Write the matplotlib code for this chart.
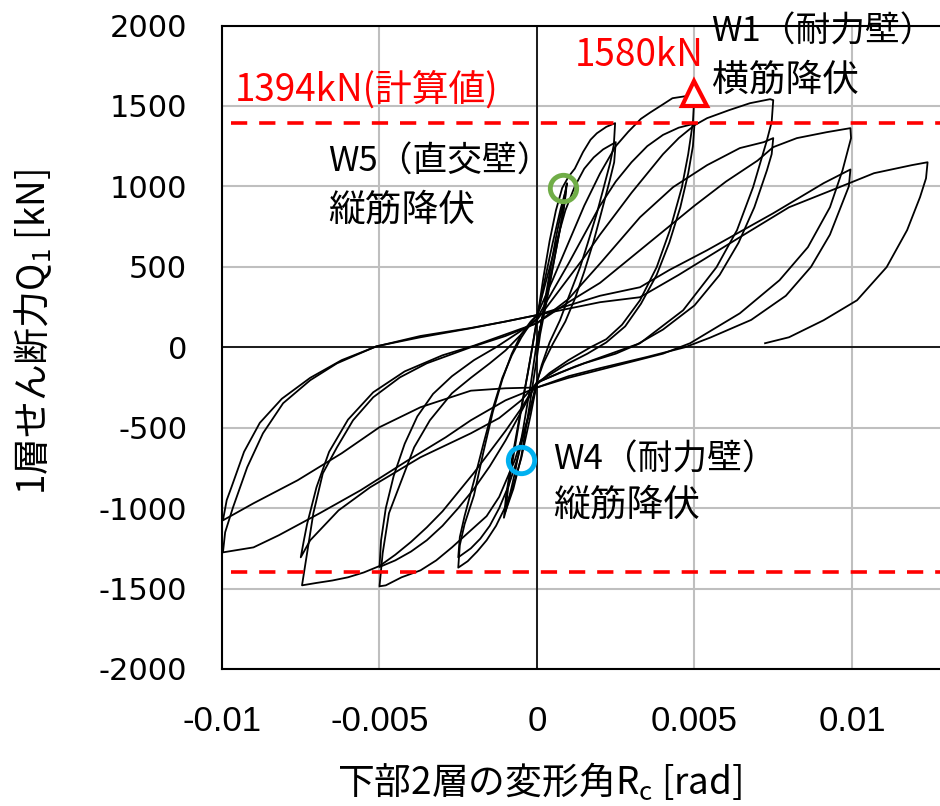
import matplotlib
matplotlib.use('Agg')
import matplotlib.pyplot as plt
import numpy as np

plt.rcParams['font.family'] = ['Noto Sans CJK JP', 'DejaVu Sans']

# 変形角は 1e-3 rad 単位で読み取り、せん断力は kN
# ±0.001 rad 1回目
r_a = [0, 0.2, 0.4, 0.6, 0.8, 0.95, 0.88, 0.7, 0.45, 0.2, 0, -0.2, -0.45, -0.7, -0.9, -1.05, -0.98, -0.8, -0.55, -0.3, -0.1, 0]
q_a = [0, 230, 460, 680, 870, 1020, 900, 700, 450, 200, 40, -230, -520, -780, -950, -1060, -920, -700, -430, -170, 60, 180]
# ±0.001 rad 2回目
r_b = [0, 0.25, 0.5, 0.75, 0.92, 0.85, 0.6, 0.35, 0.1, 0, -0.25, -0.5, -0.75, -1.0, -0.92, -0.7, -0.45, -0.2, 0]
q_b = [180, 420, 650, 860, 980, 860, 600, 330, 80, -60, -380, -680, -880, -1020, -880, -620, -330, -60, 170]
# ±0.0025 rad 1回目
r_c = [0, 0.2, 0.4, 0.6, 0.8, 1.0, 1.2, 1.46, 1.7, 1.9, 2.2, 2.48,
       2.44, 2.32, 2.1, 1.9, 1.6, 1.37, 1.0, 0.73, 0.4, 0.15, 0,
       -0.2, -0.5, -0.8, -1.0, -1.3, -1.6, -1.9, -2.2, -2.5,
       -2.45, -2.3, -2.0, -1.7, -1.4, -1.1, -0.8, -0.5, -0.2, 0]
q_c = [170, 430, 660, 850, 990, 1060, 1110, 1213, 1290, 1330, 1370, 1393,
       1260, 1144, 980, 833, 640, 498, 310, 168, 30, -110, -220,
       -420, -690, -890, -990, -1110, -1200, -1270, -1330, -1370,
       -1230, -1100, -920, -650, -400, -200, -40, 80, 160, 200]
# ±0.0025 rad 2回目
r_d = [0, 0.3, 0.6, 0.9, 1.2, 1.5, 1.8, 2.1, 2.5,
       2.45, 2.3, 2.1, 1.8, 1.5, 1.2, 0.9, 0.5, 0.2, 0,
       -0.3, -0.6, -0.9, -1.2, -1.5, -1.8, -2.1, -2.5,
       -2.45, -2.3, -2.0, -1.7, -1.4, -1.1, -0.8, -0.5, -0.2, 0]
q_d = [200, 420, 640, 850, 1000, 1110, 1180, 1230, 1275,
       1150, 1030, 880, 660, 470, 300, 160, 20, -100, -210,
       -450, -680, -860, -1000, -1110, -1190, -1250, -1306,
       -1180, -1050, -830, -600, -380, -190, -50, 60, 150, 200]
# ±0.005 rad 1回目
r_e = [0, 0.5, 1.0, 1.5, 2.0, 2.5, 2.9, 3.3, 3.6, 4.0, 4.3, 4.7, 5.0,
       4.95, 4.8, 4.6, 4.22, 3.8, 3.27, 2.7, 2.2, 1.7, 1.0, 0.4, 0,
       -0.3, -0.7, -1.2, -1.6, -2.1, -2.7, -3.2, -3.7, -4.3, -4.8, -5.0,
       -4.9, -4.7, -4.3, -3.9, -3.4, -2.7, -2.1, -1.5, -1.0, -0.5, 0]
q_e = [200, 420, 650, 880, 1080, 1250, 1340, 1420, 1460, 1510, 1548, 1560, 1580,
       1400, 1200, 995, 728, 498, 292, 140, 50, 0, -80, -160, -230,
       -450, -700, -930, -1050, -1138, -1244, -1325, -1387, -1430, -1480, -1486,
       -1281, -1032, -827, -622, -454, -286, -190, -100, -20, 80, 180]
# ±0.005 rad 2回目
r_f = [0, 0.5, 1.0, 1.5, 2.0, 2.5, 3.0, 3.5, 4.0, 4.5, 5.0,
       4.95, 4.8, 4.55, 4.2, 3.8, 3.3, 2.8, 2.2, 1.6, 0.9, 0,
       -0.5, -1.0, -1.5, -2.0, -2.5, -3.0, -3.5, -4.0, -4.5, -5.0,
       -4.95, -4.8, -4.55, -4.2, -3.8, -3.3, -2.7, -2.0, -1.3, -0.6, 0]
q_f = [180, 350, 520, 700, 880, 1030, 1150, 1250, 1320, 1365, 1390,
       1250, 1080, 870, 650, 450, 270, 130, 30, -40, -110, -220,
       -400, -580, -740, -880, -1000, -1110, -1200, -1270, -1325, -1366,
       -1200, -1000, -800, -600, -430, -290, -180, -80, 0, 90, 170]
# ±0.0075 rad 1回目
r_g = [0, 0.5, 1.0, 1.5, 2.0, 2.5, 3.0, 3.5, 4.0, 4.5, 5.0, 5.4, 6.1, 6.76, 7.4, 7.5,
       7.45, 7.3, 6.86, 6.35, 5.7, 4.64, 3.27, 2.5, 1.5, 0.7, 0,
       -0.5, -1.0, -1.5, -2.0, -2.5, -3.0, -3.5, -4.0, -4.5, -5.0, -5.5, -6.0, -6.5, -7.0, -7.46,
       -7.3, -7.1, -6.8, -6.35, -5.84, -5.2, -4.35, -3.5, -2.1, -1.0, 0]
q_g = [170, 300, 430, 560, 700, 830, 960, 1080, 1200, 1300, 1380, 1424, 1474, 1517, 1542, 1536,
       1400, 1287, 995, 728, 498, 230, 25, -40, -100, -160, -220,
       -380, -520, -650, -780, -900, -1020, -1120, -1210, -1290, -1360, -1400, -1430, -1450, -1465, -1480,
       -1281, -1032, -784, -622, -454, -311, -187, -100, 0, 70, 150]
# ±0.0075 rad 2回目
r_h = [0, 1.0, 2.0, 3.27, 4.32, 5.4, 6.44, 7.2, 7.5,
       7.45, 7.3, 6.9, 6.4, 5.8, 5.0, 4.0, 3.2, 2.2, 1.2, 0,
       -0.5, -1.2, -2.1, -3.7, -5.3, -6.3, -7.2, -7.5,
       -7.4, -7.3, -7.0, -6.6, -6.0, -5.2, -4.2, -3.0, -2.0, -1.0, 0]
q_h = [150, 300, 520, 808, 995, 1132, 1238, 1275, 1300,
       1200, 1100, 870, 650, 450, 260, 110, 20, -50, -120, -220,
       -330, -440, -535, -684, -871, -1014, -1200, -1306,
       -1200, -1100, -870, -650, -450, -280, -150, -50, 10, 80, 150]
# ±0.01 rad 1回目
r_i = [0, 1.0, 2.0, 3.0, 4.0, 5.0, 6.0, 7.0, 7.5, 8.25, 9.2, 9.95,
       9.97, 9.7, 9.3, 8.6, 7.7, 6.44, 4.86, 4.0, 3.0, 2.0, 1.0, 0,
       -1.0, -2.1, -2.9, -4.1, -5.6, -6.9, -8.2, -9.0, -9.97,
       -9.9, -9.65, -9.2, -8.7, -8.06, -7.2, -6.35, -5.1, -3.7, -2.1, -1.0, 0]
q_i = [150, 280, 400, 560, 720, 880, 1030, 1160, 1244, 1300, 1337, 1362,
       1300, 1100, 870, 622, 417, 211, 25, -40, -90, -140, -190, -250,
       -330, -454, -560, -703, -889, -1032, -1169, -1244, -1275,
       -1150, -995, -746, -535, -348, -205, -100, 6, 62, 118, 160, 200]
# ±0.01 rad 2回目
r_j = [0, 1.0, 2.0, 3.27, 4.2, 5.4, 7.5, 9.1, 9.95,
       9.9, 9.7, 9.3, 8.7, 7.9, 6.8, 5.5, 4.7, 3.5, 2.0, 1.0, 0,
       -1.0, -2.1, -3.7, -5.0, -6.2, -7.6, -9.0, -9.97,
       -9.85, -9.7, -9.3, -8.8, -8.1, -7.2, -6.2, -5.1, -3.7, -2.1, -1.0, 0]
q_j = [200, 260, 320, 373, 480, 603, 833, 1020, 1105,
       1000, 900, 700, 500, 320, 170, 60, 0, -60, -130, -180, -250,
       -255, -270, -373, -497, -659, -827, -970, -1076,
       -950, -870, -650, -470, -320, -190, -80, 5, 70, 120, 160, 200]
# 最終載荷 +0.0125 rad
r_k = [0, 1.0, 2.0, 3.27, 4.5, 6.44, 8.0, 9.6, 10.7, 11.9, 12.4,
       12.35, 12.16, 11.75, 11.1, 10.16, 9.1, 8.0, 7.24]
q_k = [200, 240, 280, 311, 450, 684, 870, 995, 1082, 1132, 1150,
       1050, 933, 728, 498, 292, 168, 62, 25]

loops = [(r_a, q_a), (r_b, q_b), (r_c, q_c), (r_d, q_d), (r_e, q_e), (r_f, q_f),
         (r_g, q_g), (r_h, q_h), (r_i, q_i), (r_j, q_j), (r_k, q_k)]

q_calc = 1394
q_max = 1580
r_max = 0.005
w5_point = (0.00083, 990)
w4_point = (-0.00052, -703)

x_ticks = [-0.01, -0.005, 0, 0.005, 0.01]
x_tick_labels = ['-0.01', '-0.005', '0', '0.005', '0.01']
y_ticks = [-2000, -1500, -1000, -500, 0, 500, 1000, 1500, 2000]

fig = plt.figure(figsize=(9.4, 8.06), dpi=100)
ax = fig.add_axes([222 / 940, 1 - 669 / 806, 718 / 940, 643.5 / 806])

ax.set_xlim(-0.01, 0.012794)
ax.set_ylim(-2000, 2000)
ax.set_xticks(x_ticks)
ax.set_xticklabels(x_tick_labels, family=['Liberation Sans', 'DejaVu Sans'], fontsize=25)
ax.set_yticks(y_ticks)
ax.set_yticklabels([str(v) for v in y_ticks], family='DejaVu Sans', fontsize=22)
ax.tick_params(axis='x', length=0, pad=26)
ax.tick_params(axis='y', length=0, pad=25)

ax.grid(True, color='#BFBFBF', lw=1.5, zorder=0)
ax.set_axisbelow(True)
ax.axhline(0, color='k', lw=1.2, zorder=2)
ax.axvline(0, color='k', lw=1.2, zorder=2)
for s in ['left', 'bottom', 'top']:
    ax.spines[s].set_linewidth(1.5)
ax.spines['right'].set_visible(False)

for r, q in loops:
    ax.plot(np.array(r) * 1e-3, q, color='k', lw=1.3, zorder=3)

# 計算値
for sign in [1, -1]:
    ax.plot([-0.0097, 0.0128], [sign * q_calc, sign * q_calc], color='#FF0000', lw=2.6,
            dashes=(4.5, 3.3), zorder=4)

ax.plot(r_max, q_max, marker='^', ms=18, mfc='white', mec='#FF0000', mew=3, zorder=5)
ax.plot(*w5_point, marker='o', ms=19, mfc='none', mec='#70AD47', mew=3.5, zorder=5)
ax.plot(*w4_point, marker='o', ms=19, mfc='none', mec='#00B0F0', mew=3.5, zorder=5)

fs = 26.5
fs_w = 25
ax.text(-0.00959, 1598, '1394kN(計算値)', color='#FF0000', fontsize=fs, va='center', ha='left')
ax.text(0.0012, 1816, '1580kN', color='#FF0000', fontsize=fs, va='center', ha='left')
ax.text(0.00554, 1959, 'W1（耐力壁）', fontsize=fs_w, va='center', ha='left', clip_on=False)
ax.text(0.00556, 1660, '横筋降伏', fontsize=fs, va='center', ha='left')
ax.text(-0.00663, 1150, 'W5（直交壁）', fontsize=fs_w, va='center', ha='left')
ax.text(-0.00663, 852, '縦筋降伏', fontsize=fs, va='center', ha='left')
ax.text(0.00051, -703, 'W4（耐力壁）', fontsize=fs_w, va='center', ha='left')
ax.text(0.00051, -983, '縦筋降伏', fontsize=fs, va='center', ha='left')

fig.text(33 / 940, 1 - 332 / 806, r'1層せん断力Q$_\mathregular{1}$ [kN]', rotation=90,
         fontsize=26.5, ha='center', va='center')
fig.text(540 / 940, 1 - 783 / 806, r'下部2層の変形角R$_\mathregular{c}$ [rad]',
         fontsize=26.5, ha='center', va='center')

fig.savefig('out.png', dpi=100)
